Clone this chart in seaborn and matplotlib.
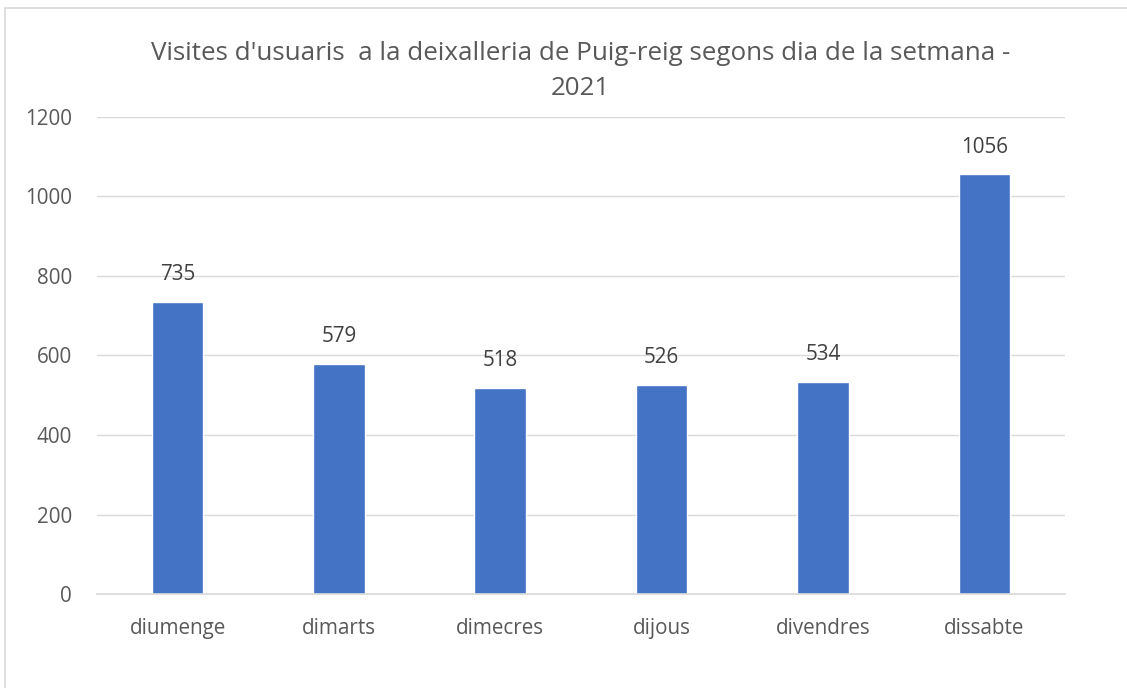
import matplotlib
matplotlib.use("Agg")
import matplotlib.pyplot as plt
import pandas as pd
import seaborn as sns
from matplotlib.patches import Rectangle

dies = ["diumenge", "dimarts", "dimecres", "dijous", "divendres", "dissabte"]
visites = [735, 579, 518, 526, 534, 1056]
titol = "Visites d'usuaris  a la deixalleria de Puig-reig segons dia de la setmana -\n2021"

sns.set_style("white")
plt.rcParams["font.family"] = ["Open Sans", "DejaVu Sans"]

data = pd.DataFrame({"Dia": dies, "Visites": visites})

fig = plt.figure(figsize=(11.27, 6.88), dpi=100)
ax = fig.add_axes([0.086, 0.1366, 0.859, 0.6934])

sns.barplot(data=data, x="Dia", y="Visites", color="#4472C4", saturation=1,
            width=0.32, ax=ax)

ax.set_ylim(0, 1200)
ax.set_yticks(range(0, 1201, 200))
ax.yaxis.grid(True, color="#D9D9D9", linewidth=1)
ax.set_axisbelow(True)
for s in ["top", "right", "left"]:
    ax.spines[s].set_visible(False)
ax.spines["bottom"].set_color("#D9D9D9")
ax.spines["bottom"].set_linewidth(1.2)
ax.tick_params(axis="both", length=0, labelsize=14.9, colors="#595959")
ax.tick_params(axis="y", pad=18)
ax.tick_params(axis="x", pad=17)
ax.set_xlabel("")
ax.set_ylabel("")

for c in ax.containers:
    ax.bar_label(c, labels=[str(v) for v in visites], padding=12,
                 fontsize=14.9, color="#404040")

fig.text(0.515, 0.897, titol, ha="center", va="center", fontsize=18.7,
         color="#595959", linespacing=1.5)

fig.patches.append(Rectangle((5 / 1127, -0.05), 1.1, (688 - 8) / 688 + 0.05,
                             transform=fig.transFigure, fill=False,
                             edgecolor="#D9D9D9", linewidth=1.2))

fig.savefig("out.png", dpi=100)
